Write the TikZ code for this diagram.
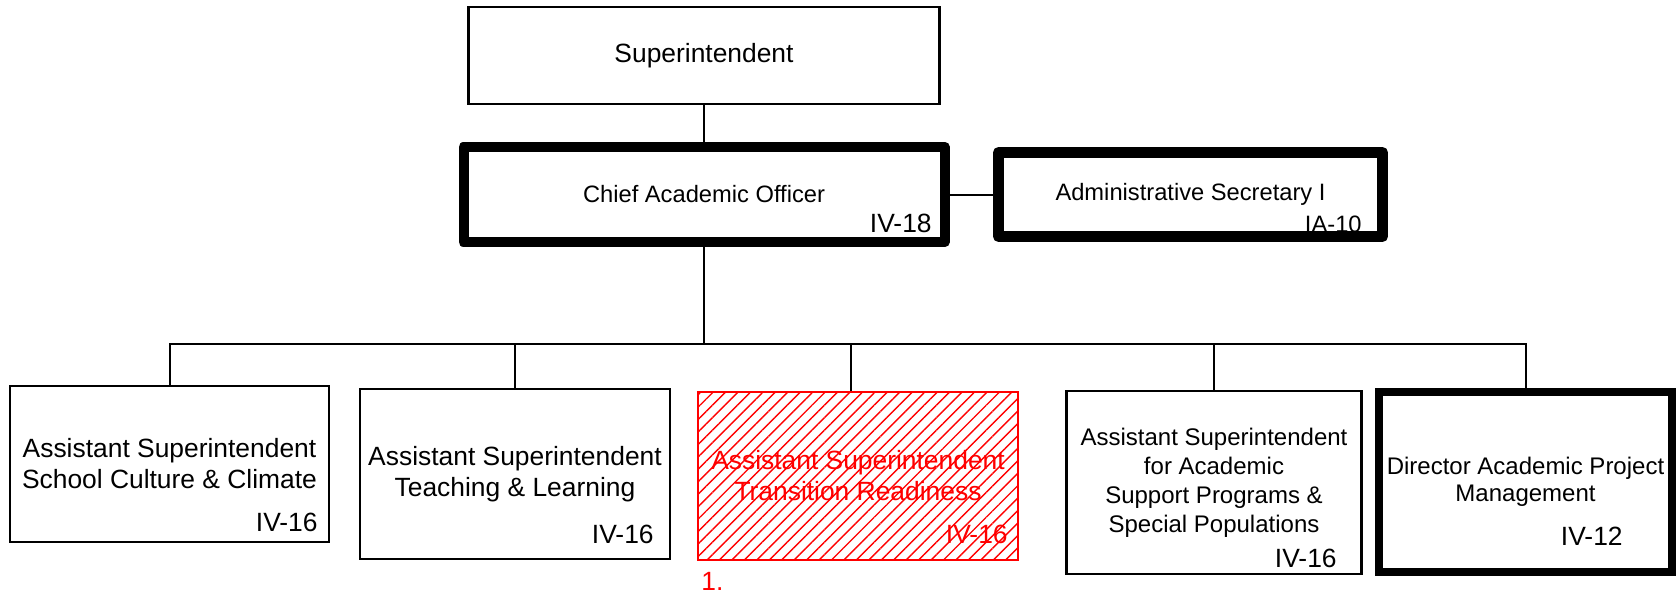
\documentclass[tikz,border=0pt]{standalone}
\usepackage{fontspec}
\setmainfont{Liberation Sans}
\usepackage{tikz}
\usetikzlibrary{patterns.meta}

\tikzset{
  post/.style={draw, line width=1.4pt, inner sep=0pt, align=center,
    font=\fontsize{13.2}{15.5}\selectfont},
  small/.style={font=\fontsize{12}{14.5}\selectfont},
  heavy/.style={post, line width=5pt, line join=round, font=\fontsize{11.85}{14}\selectfont},
  grade/.style={anchor=base east, inner sep=0pt, font=\fontsize{13.2}{15.5}\selectfont},
  link/.style={line width=1pt},
  vacant/.style={post, draw=red, text=red, pattern color=red,
    pattern={Lines[angle=45, distance=4.4pt, line width=0.7pt]}},
}

\begin{document}
\begin{tikzpicture}[x=0.5pt, y=-0.5pt]
  \useasboundingbox (0,0) rectangle (1680,595);

  \node[post, minimum width=235.5pt, minimum height=48.5pt] (sup) at (704,55.5) {Superintendent};
  \node[heavy, minimum width=240.5pt, minimum height=47.75pt] (cao) at (704,194.5) {Chief Academic Officer};
  \node[grade] (g0) at (932,232) {IV-18};

  \node[grade, font=\fontsize{11.85}{14}\selectfont] (g1) at (1362,232) {IA-10};
  \node[heavy, line width=5.5pt, minimum width=192pt, minimum height=42pt] (sec) at (1190.5,194.5) {Administrative Secretary I};

  \node[post, minimum width=159.5pt, minimum height=78pt] (b1) at (169.5,464)
    {Assistant Superintendent\\School Culture \& Climate};
  \node[grade] (g2) at (318,531) {IV-16};

  \node[post, minimum width=155pt, minimum height=85pt] (b2) at (515,474)
    {Assistant Superintendent\\Teaching \& Learning};
  \node[grade] (g3) at (654,543) {IV-16};

  \node[vacant, minimum width=160pt, minimum height=84pt] (b3) at (858,476)
    {Assistant Superintendent\\Transition Readiness};
  \node[grade, text=red] (g4) at (1008,543) {IV-16};
  \node[anchor=base west, inner sep=0pt, text=red, font=\fontsize{13.2}{15.5}\selectfont] (note) at (701,590) {1.};

  \node[post, small, minimum width=147.5pt, minimum height=91.5pt] (b4) at (1214,482.5)
    {Assistant Superintendent\\for Academic\\Support Programs \&\\Special Populations};
  \node[grade] (g5) at (1337,567) {IV-16};

  \node[post, small, line width=3.75pt, minimum width=146.5pt, minimum height=90pt,
    font=\fontsize{12}{13.5}\selectfont] (b5) at (1525.5,482) {Director Academic Project\\Management};
  \node[grade] (g6) at (1623,545) {IV-12};

  \coordinate (bus) at (704,344);
  \draw[link] (sup.south) -- (cao.north);
  \draw[link] (cao.east) -- (sec.west);
  \draw[link] (cao.south) -- (bus);
  \draw[link] (b1.north) |- (bus) -| (b5.north);
  \foreach \b in {b2,b4}
    \draw[link] (\b.north) -- (\b.north |- bus);
  \draw[link] ([xshift=-3.5pt]b3.north) -- ([xshift=-3.5pt]b3.north |- bus);
\end{tikzpicture}
\end{document}
